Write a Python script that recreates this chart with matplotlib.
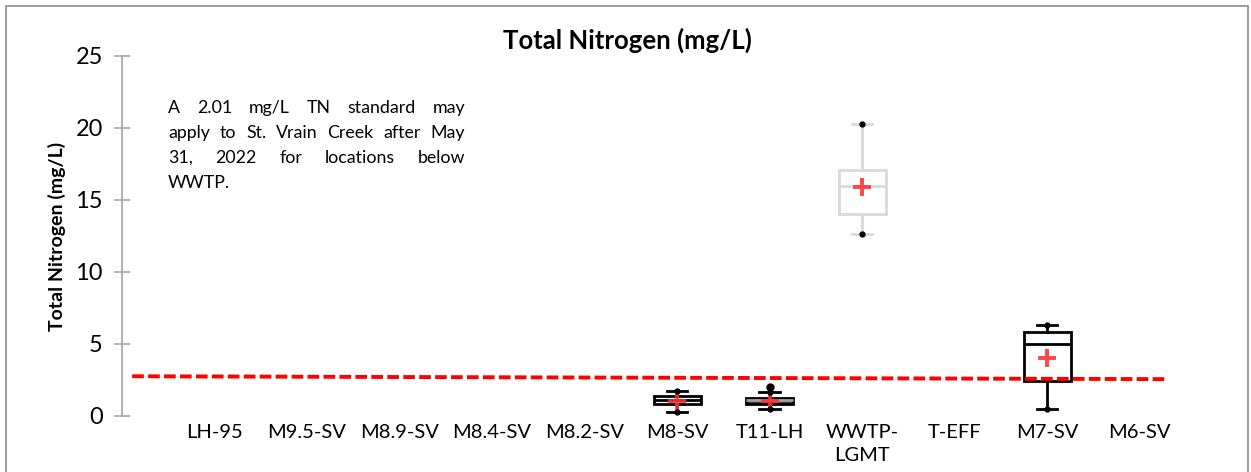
import matplotlib
matplotlib.use('Agg')
import matplotlib.pyplot as plt
from matplotlib.patches import Rectangle
import numpy as np

plt.rcParams['font.family'] = ['Lato', 'DejaVu Sans']

nan = np.nan
categories = ['LH-95', 'M9.5-SV', 'M8.9-SV', 'M8.4-SV', 'M8.2-SV', 'M8-SV',
              'T11-LH', 'WWTP-\nLGMT', 'T-EFF', 'M7-SV', 'M6-SV']
whislo = [nan, nan, nan, nan, nan, 0.26, 0.48, 12.66, nan, 0.50, nan]
q1     = [nan, nan, nan, nan, nan, 0.84, 0.84, 14.00, nan, 2.41, nan]
med    = [nan, nan, nan, nan, nan, 1.08, 1.08, 15.95, nan, 5.00, nan]
q3     = [nan, nan, nan, nan, nan, 1.40, 1.28, 17.06, nan, 5.85, nan]
whishi = [nan, nan, nan, nan, nan, 1.72, 1.68, 20.30, nan, 6.32, nan]
means  = [nan, nan, nan, nan, nan, 1.02, 1.05, 15.88, nan, 4.05, nan]
outliers = [[], [], [], [], [], [], [2.0], [], [], [], []]

threshold_x = [-0.89, 10.29]
threshold_y = [2.76, 2.56]

yticks = [0, 5, 10, 15, 20, 25]
title = 'Total Nitrogen (mg/L)'
ylabel = 'Total Nitrogen (mg/L)'
note_lines = [['A', '2.01', 'mg/L', 'TN', 'standard', 'may'],
              ['apply', 'to', 'St.', 'Vrain', 'Creek', 'after', 'May'],
              ['31,', '2022', 'for', 'locations', 'below'],
              ['WWTP.']]

edge_colors = {5: 'black', 6: 'black', 7: '#d9d9d9', 9: 'black'}
face_colors = {5: 'white', 6: '#404040', 7: 'white', 9: 'white'}
median_colors = {5: 'black', 6: '#a0a0a0', 7: '#d9d9d9', 9: 'black'}

W, H = 1251, 472
fig = plt.figure(figsize=(W / 100, H / 100), dpi=100)
ax = fig.add_axes([122 / W, 1 - 416 / H, (1186 - 122) / W, (416 - 56) / H])

for i in range(len(categories)):
    if np.isnan(med[i]):
        continue
    stats = [dict(med=med[i], q1=q1[i], q3=q3[i], whislo=whislo[i],
                  whishi=whishi[i], fliers=outliers[i], mean=means[i])]
    ec = edge_colors[i]
    ax.bxp(stats, positions=[i], widths=0.51, capwidths=0.22, patch_artist=True,
           showmeans=True, showfliers=True,
           boxprops=dict(facecolor=face_colors[i], edgecolor=ec, linewidth=2),
           whiskerprops=dict(color=ec, linewidth=2),
           capprops=dict(color=ec, linewidth=2),
           medianprops=dict(color=median_colors[i], linewidth=2),
           meanprops=dict(marker='+', markersize=13, markeredgewidth=2.8,
                          markeredgecolor='#ff3333', alpha=0.9),
           flierprops=dict(marker='o', markersize=5, markerfacecolor='black',
                           markeredgecolor='black'),
           zorder=2)
    ax.plot([i, i], [whislo[i], whishi[i]], ls='none', marker='o', ms=3.5,
            color='black', zorder=4)

ax.plot(threshold_x, threshold_y, color='#ff0000', lw=2.8,
        linestyle=(0, (3.0, 1.1)), zorder=5)

ax.set_xlim(-1, 10.5)
ax.set_ylim(0, 25)
ax.set_yticks(yticks)
ax.set_xticks(range(len(categories)))
ax.set_xticklabels(categories, fontsize=14.5, linespacing=1.4)
ax.tick_params(axis='x', length=0, pad=6)
ax.tick_params(axis='y', direction='inout', length=11.5, width=1.2,
               color='#a6a6a6', labelsize=17, pad=8)
for s in ['top', 'right', 'bottom']:
    ax.spines[s].set_visible(False)
ax.spines['left'].set_color('#a6a6a6')
ax.spines['left'].set_linewidth(1.2)
ax.patch.set_alpha(0)

fig.text(57 / W, 1 - 236 / H, ylabel, rotation=90, fontsize=14,
         fontweight='bold', ha='center', va='center')
fig.text(627 / W, 1 - 40 / H, title, fontsize=18.5, fontweight='bold',
         ha='center', va='center')

# justified note
fig.canvas.draw()
renderer = fig.canvas.get_renderer()
x0, x1 = 168, 465
fs = 12.8
for li, words in enumerate(note_lines):
    yb = 1 - (113 + 25 * li) / H
    widths = []
    for w in words:
        t = fig.text(0, 0, w, fontsize=fs)
        widths.append(t.get_window_extent(renderer).width)
        t.remove()
    if len(words) > 1 and li < len(note_lines) - 1:
        gap = (x1 - x0 - sum(widths)) / (len(words) - 1)
    else:
        gap = 4
    x = x0
    for w, wd in zip(words, widths):
        fig.text(x / W, yb, w, fontsize=fs, ha='left', va='baseline')
        x += wd + gap

fig.patches.append(Rectangle((6 / W, -0.05), (1248 - 6) / W, 1 - 6 / H + 0.05,
                             transform=fig.transFigure, fill=False,
                             edgecolor='#8c8c8c', linewidth=1.2))

fig.savefig('out.png', dpi=100)
